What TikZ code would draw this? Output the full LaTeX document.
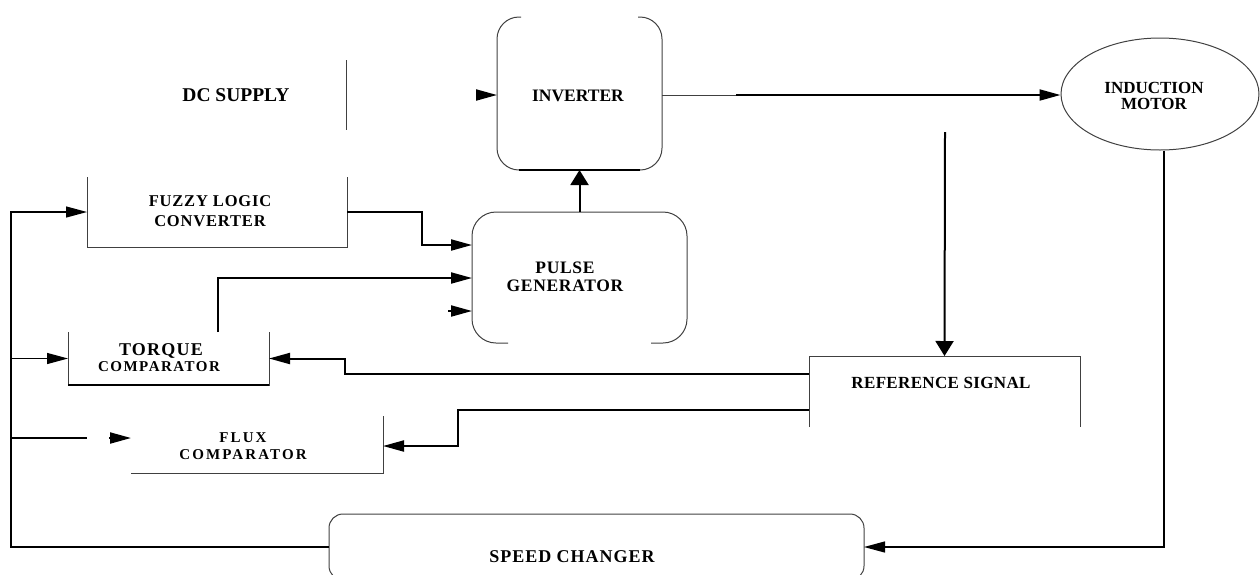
\documentclass[tikz,border=0pt]{standalone}
\usepackage{fontspec}
\setmainfont{Liberation Serif}
\usetikzlibrary{arrows.meta,calc,shapes.geometric}
\begin{document}
\begin{tikzpicture}[x=1pt,y=-1pt,
  frame/.style={draw=none,inner sep=0pt,outer sep=0pt,rectangle},
  outline/.style={draw=black!75,line width=1pt},
  conn/.style={draw=black,line width=2pt},
  thinconn/.style={draw=black,line width=1.3pt},
  harrow/.style={-{Triangle[length=21pt,width=11pt]}},
  varrow/.style={-{Triangle[length=15pt,width=18pt]}},
  lbl/.style={inner sep=0pt,align=center}]
\useasboundingbox (0,0) rectangle (1260,574);

% geometry nodes
\node[frame,minimum width=220pt,minimum height=70pt] (dc) at (236,95) {};
\node[frame,minimum width=165pt,minimum height=153pt] (inv) at (579.5,93.5) {};
\node[draw=black!75,line width=1pt,ellipse,inner sep=0pt,minimum width=198pt,minimum height=112pt] (motor) at (1160,94) {};
\node[frame,minimum width=260pt,minimum height=70pt] (fz) at (217,212) {};
\node[frame,minimum width=215pt,minimum height=131pt] (pg) at (579.5,277.5) {};
\node[frame,minimum width=201pt,minimum height=53pt] (tq) at (168.5,358.5) {};
\node[frame,minimum width=252pt,minimum height=57pt] (fx) at (257,444.5) {};
\node[frame,minimum width=271pt,minimum height=71pt] (ref) at (944.5,391.5) {};
\node[frame,minimum width=535pt,minimum height=66pt] (sc) at (596.5,547) {};

% box outlines
\draw[outline] (dc.north east) -- (dc.south east);
\draw[outline,rounded corners=22pt] ($(inv.north west)+(24,0)$) -- (inv.north west) -- (inv.south west) -- (inv.south east) -- (inv.north east) -- ($(inv.north east)+(-24,0)$);
\draw[line width=2pt] ($(inv.south west)+(22,0)$) -- ($(inv.south east)+(-22,0)$);
\draw[outline,rounded corners=24pt] ($(pg.south west)+(36,0)$) -- (pg.south west) -- (pg.north west) -- (pg.north east) -- (pg.south east) -- ($(pg.south east)+(-36,0)$);
\draw[outline] (fz.north west) -- (fz.south west) -- (fz.south east) -- (fz.north east);
\draw[outline] (tq.north west) -- (tq.south west) -- (tq.south east) -- (tq.north east);
\draw[line width=2pt] (tq.south west) -- (tq.south east);
\draw[outline] (fx.south west) -- (fx.south east) -- (fx.north east);
\draw[outline] (ref.south west) -- (ref.north west) -- (ref.north east) -- (ref.south east);
\draw[outline,rounded corners=14pt] (sc.south west) rectangle (sc.north east);

% labels
\node[lbl,font=\fontsize{19.5}{22}\selectfont\bfseries] (tdc) at (236,95) {DC SUPPLY};
\node[lbl,font=\fontsize{17.5}{20}\selectfont\bfseries] (tinv) at (578,96) {INVERTER};
\node[lbl,font=\fontsize{17}{15.5}\selectfont\bfseries] (tmot) at (1154,96) {INDUCTION\\MOTOR};
\node[lbl,font=\fontsize{16.5}{20}\selectfont\bfseries\addfontfeature{LetterSpace=5}] (tfz) at (210,211) {FUZZY LOGIC\\CONVERTER};
\node[lbl,font=\fontsize{17.5}{18.5}\selectfont\bfseries\addfontfeature{LetterSpace=4}] (tpg) at (565,277) {PULSE\\GENERATOR};
\node[lbl,font=\fontsize{18}{18}\selectfont\bfseries\addfontfeature{LetterSpace=7}] (ttq1) at (161,351) {TORQUE};
\node[lbl,font=\fontsize{15}{15}\selectfont\bfseries\addfontfeature{LetterSpace=10}] (ttq2) at (159,367) {COMPARATOR};
\node[lbl,font=\fontsize{15}{17}\selectfont\bfseries\addfontfeature{LetterSpace=14}] (tfx) at (243,446) {FLUX\\COMPARATOR};
\node[lbl,font=\fontsize{17}{18}\selectfont\bfseries\addfontfeature{LetterSpace=2}] (tref) at (941,383) {REFERENCE SIGNAL};
\node[lbl,font=\fontsize{18}{18}\selectfont\bfseries\addfontfeature{LetterSpace=5.5}] (tsc) at (572,557) {SPEED CHANGER};

% helper coordinates
\coordinate (dcin) at (476,95);
\coordinate (outbreak) at (736,95);
\coordinate (refsrc) at (945,132);
\coordinate (bl) at (11,547);
\coordinate (fzmid) at (422,212);
\coordinate (tqup) at (218,332);
\coordinate (pgfree) at (448,311);
\coordinate (fxl) at (87,438);
\coordinate (fxfree) at (109,438);
\coordinate (reft) at (345,374);
\coordinate (reff) at (458,410);

% connectors
\draw[conn,harrow] (dcin) -- (inv.west |- dcin);
\draw[outline] (inv.east |- outbreak) -- (outbreak);
\draw[conn,harrow] (outbreak) -- (motor.west |- outbreak);
\draw[conn,varrow] (refsrc) -- (ref.north);
\draw[thinconn,harrow] ($(motor.south)+(4,0)$) |- (sc.east);
\draw[thinconn,harrow] (sc.west) -- (bl) -- (bl |- fz.west) -- (fz.west);
\draw[thinconn,harrow] (bl |- tq.west) -- (tq.west);
\draw[thinconn] (bl |- fxl) -- (fxl);
\draw[conn,harrow] (fxfree) -- (fx.west |- fxfree);
\draw[conn,harrow] (fz.east) -- (fzmid) |- (pg.west |- 0,245);
\draw[conn,harrow] (tqup) |- (pg.west |- 0,278);
\draw[conn,harrow] (pgfree) -- (pg.west |- pgfree);
\draw[conn,varrow] (pg.north) -- (inv.south);
\draw[conn,harrow] (ref.west |- reft) -- (reft) |- (tq.east);
\draw[conn,harrow] (ref.west |- reff) -- (reff) |- (fx.east |- 0,446);
\end{tikzpicture}
\end{document}
